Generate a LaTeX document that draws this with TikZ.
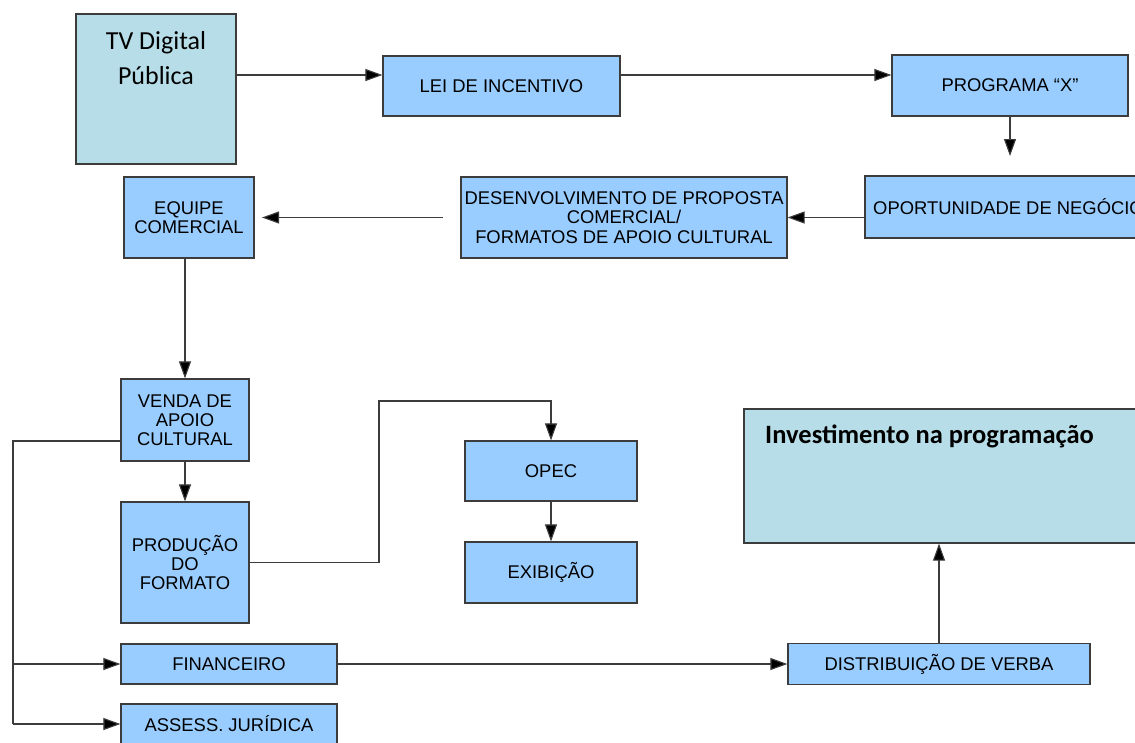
\documentclass[tikz,border=0pt]{standalone}
\usepackage{fontspec}
\setmainfont{Liberation Sans}
\newfontfamily\carlito{Carlito}
\usetikzlibrary{arrows.meta}
\definecolor{boxblue}{HTML}{99CCFF}
\definecolor{boxteal}{HTML}{B7DEE8}
\definecolor{edgegray}{HTML}{3C3C3C}

\begin{document}
\begin{tikzpicture}[x=1pt,y=-1pt,
  blk/.style={draw=edgegray, line width=1.2pt, fill=boxblue, inner sep=0pt,
    align=center, font=\fontsize{18.4}{19.2}\selectfont},
  big/.style={draw=edgegray, line width=1.2pt, fill=boxteal, inner sep=0pt},
  flow/.style={draw=edgegray, line width=1.1pt, -{Triangle[length=17pt,width=12pt,fill=black]}},
  rail/.style={draw=edgegray, line width=1.1pt}]
\clip (0,0) rectangle (1135,742);
\fill[white] (0,0) rectangle (1135,742);

% large teal panels
\node[big, minimum width=160pt, minimum height=150pt] (tv) at (156,89) {};
\node[font=\carlito\fontsize{26}{35}\selectfont, align=center] (tvtext) at (156,58) {TV Digital\\Pública};
\node[big, minimum width=401pt, minimum height=134pt] (inv) at (944.5,476) {};
\node[font=\carlito\bfseries\fontsize{26.5}{30}\selectfont, anchor=west, inner sep=0pt] (invtext) at (765,436) {Investimento na programação};

% process boxes
\node[blk, minimum width=237pt, minimum height=60pt] (lei) at (501.5,86) {LEI DE INCENTIVO};
\node[blk, minimum width=236pt, minimum height=61pt] (prog) at (1010,85.5) {PROGRAMA “X”};
\node[blk, minimum width=287pt, minimum height=62pt] (oport) at (1008.5,207) {OPORTUNIDADE DE NEGÓCIO};
\node[blk, minimum width=326pt, minimum height=81pt] (desenv) at (624,217.5) {DESENVOLVIMENTO DE PROPOSTA\\COMERCIAL/\\FORMATOS DE APOIO CULTURAL};
\node[blk, minimum width=130pt, minimum height=81pt] (equipe) at (189,217.5) {EQUIPE\\COMERCIAL};
\node[blk, minimum width=128pt, minimum height=82pt] (venda) at (185,420) {VENDA DE\\APOIO\\CULTURAL};
\node[blk, minimum width=128pt, minimum height=121pt] (prod) at (185,562.5) {PRODUÇÃO\\DO\\FORMATO};
\node[blk, minimum width=216pt, minimum height=40pt] (fin) at (229,664) {FINANCEIRO};
\node[blk, minimum width=216pt, minimum height=40pt] (jur) at (229,724) {ASSESS. JURÍDICA};
\node[blk, minimum width=172pt, minimum height=60pt] (opec) at (551,471) {OPEC};
\node[blk, minimum width=172pt, minimum height=61pt] (exib) at (551,572.5) {EXIBIÇÃO};
\node[blk, minimum width=302pt, minimum height=41pt] (dist) at (939,664) {DISTRIBUIÇÃO DE VERBA};

% free ends and bends
\coordinate (progtip) at (1010,156);
\coordinate (d0) at (443,217.5);
\coordinate (d1) at (262,217.5);
\coordinate (railtop) at (13,441);
\coordinate (bend) at (379,401);

% connectors
\draw[flow] (tv.east |- 0,75) -- (lei.west |- 0,75);
\draw[flow] (lei.east |- 0,75) -- (prog.west |- 0,75);
\draw[flow] (prog.south) -- (progtip);
\draw[flow] (oport.west |- desenv.east) -- (desenv.east);
\draw[flow] (d0) -- (d1);
\draw[flow] (venda.north |- equipe.south) -- (venda.north);
\draw[flow] (venda.south) -- (prod.north);
\draw[rail] (venda.west |- railtop) -- (railtop) -- (railtop |- jur.west);
\draw[flow] (railtop |- fin.west) -- (fin.west);
\draw[flow] (railtop |- jur.west) -- (jur.west);
\draw[flow] (prod.east) -- (prod.east -| bend) -- (bend) -- (bend -| opec.north) -- (opec.north);
\draw[flow] (opec.south) -- (exib.north);
\draw[flow] (fin.east) -- (dist.west);
\draw[flow] (dist.north) -- (dist.north |- inv.south);
\end{tikzpicture}
\end{document}
